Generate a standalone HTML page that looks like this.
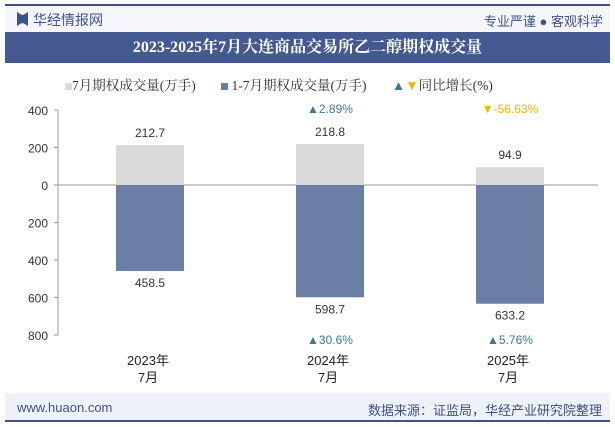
<!DOCTYPE html>
<html><head><meta charset="utf-8"><style>
body{margin:0;width:615px;height:427px;background:#fff;font-family:"Liberation Sans","Noto Sans CJK SC",sans-serif;position:relative;overflow:hidden}
.abs{position:absolute}
</style></head><body>
<div class="abs" style="left:5px;top:4px;width:605px;height:2px;background:#3e5188"></div>
<div class="abs" style="left:5px;top:6px;width:605px;height:26px;background:#f4f6fb"></div>
<div class="abs" style="left:17px;top:12px;width:11px;height:14px;background:#3e5188;clip-path:polygon(0 0,40% 20%,60% 20%,100% 0,100% 100%,60% 80%,40% 80%,0 100%)"></div>
<div class="abs" style="left:33px;top:10px;font-size:14px;color:#3e5188">华经情报网</div>
<div class="abs" style="right:12px;top:11px;font-size:13px;color:#3e5188">专业严谨 ● 客观科学</div>
<div class="abs" style="left:5px;top:32px;width:605px;height:31px;background:#44598f;color:#fff;font-weight:bold;font-size:16px;line-height:31px;text-align:center;font-family:'Liberation Serif','Noto Serif CJK SC',serif">2023-2025年7月大连商品交易所乙二醇期权成交量</div>
<div class="abs" style="left:65px;top:74px;white-space:nowrap;font-size:13.5px;color:#333;font-family:'Liberation Serif','Noto Serif CJK SC',serif">
<span><span style="display:inline-block;width:7px;height:7px;background:#d9d9d9"></span>7月期权成交量(万手)</span>
<span style="margin-left:22px"><span style="display:inline-block;width:7px;height:7px;background:#6a7ea6"></span> 1-7月期权成交量(万手)</span>
<span style="margin-left:22px"><span style="color:#3b7896">▲</span><span style="color:#f2b400">▼</span>同比增长(%)</span>
</div>
<svg class="abs" style="left:0;top:0" width="615" height="427"><g id="g"></g></svg>
<div class="abs" style="left:5px;top:393px;width:605px;height:28px;background:#eef1f8"></div>
<div class="abs" style="left:17px;top:400px;font-size:13px;color:#3e5188">www.huaon.com</div>
<div class="abs" style="right:13px;top:400px;font-size:13px;color:#3e5188">数据来源：证监局，华经产业研究院整理</div>
<div class="abs" style="left:5px;top:420px;width:605px;height:2px;background:#3e5188"></div>
<script>
const categories=["2023年","2024年","2025年"];
const monthly=[212.7,218.8,94.9];
const cumulative=[458.5,598.7,633.2];
const growthMonthly=[null,2.89,-56.63];
const growthCumulative=[null,30.6,5.76];
const ticks=[400,200,0,200,400,600,800];
const tickVals=[400,200,0,-200,-400,-600,-800];
const ns="http://www.w3.org/2000/svg",g=document.getElementById('g');
const y0=185,k=0.1875,x0=58,band=180;
const Y=v=>y0-v*k, X=i=>x0+band*(i+0.5)+2;
function el(t,a,txt){const e=document.createElementNS(ns,t);for(const n in a)e.setAttribute(n,a[n]);if(txt!=null)e.textContent=txt;g.appendChild(e);return e;}
let ax=el('line',{x1:x0,x2:x0,y1:Y(400),y2:Y(-800),stroke:'#999'});


tickVals.forEach((v,i)=>{
 let t=el('line',{x1:x0-4,x2:x0,y1:Y(v),y2:Y(v),stroke:'#999'});
 
 
 let l=el('text',{x:x0-10,y:Y(v)+5,'text-anchor':'end','font-size':12,fill:'#333'},ticks[i]);
 
 
});
let zl=el('line',{x1:x0,x2:598,y1:y0,y2:y0,stroke:'#999'});


categories.forEach((c,i)=>{
 const cx=X(i),w=68;
 let b1=el('rect',{x:cx-w/2,y:Y(monthly[i]),width:w,height:monthly[i]*k,fill:'#d9d9d9'});
 
 
 let b2=el('rect',{x:cx-w/2,y:y0,width:w,height:cumulative[i]*k,fill:'#6a7ea6'});
 
 
 let t1=el('text',{x:cx,y:Y(monthly[i])-8,'text-anchor':'middle','font-size':12,fill:'#333'},monthly[i].toFixed(1));
 
 
 let t2=el('text',{x:cx,y:Y(-cumulative[i])+16,'text-anchor':'middle','font-size':12,fill:'#333'},cumulative[i].toFixed(1));
 
 
 if(growthMonthly[i]!=null){const up=growthMonthly[i]>=0;
  let g1=el('text',{x:cx,y:113,'text-anchor':'middle','font-size':12,fill:up?'#3b7896':'#f2b400'},(up?'▲':'▼')+growthMonthly[i]+'%');
  
  }
 if(growthCumulative[i]!=null){const up=growthCumulative[i]>=0;
  let g2=el('text',{x:cx,y:344,'text-anchor':'middle','font-size':12,fill:up?'#3b7896':'#f2b400'},(up?'▲':'▼')+growthCumulative[i]+'%');
  
  }
 let c1=el('text',{x:cx-2,y:365,'text-anchor':'middle','font-size':13,fill:'#222'},c);
 
 
 let c2=el('text',{x:cx-2,y:382,'text-anchor':'middle','font-size':13,fill:'#222'},'7月');
 
 
});
</script>
</body></html>
